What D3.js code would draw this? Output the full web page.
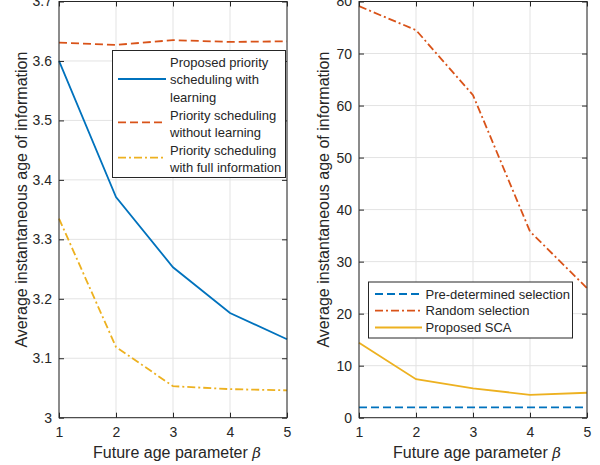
<!DOCTYPE html>
<html><head><meta charset="utf-8">
<script src="https://cdn.jsdelivr.net/npm/d3@7"></script>
<style>body{margin:0;background:#fff}svg{display:block}text{font-family:"Liberation Sans",Arial,sans-serif;fill:#262626}</style>
</head><body><svg id="c" width="600" height="465"></svg>
<script>
const betas = [1, 2, 3, 4, 5];
const leftLearning = [3.600, 3.371, 3.253, 3.176, 3.132];
const leftNoLearning = [3.631, 3.627, 3.635, 3.632, 3.633];
const leftFullInfo = [3.335, 3.119, 3.053, 3.048, 3.046];
const leftYTicks = [3, 3.1, 3.2, 3.3, 3.4, 3.5, 3.6, 3.7];
const rightPredetermined = [2, 2, 2, 2, 2];
const rightRandom = [79.1, 74.5, 62.0, 35.8, 24.9];
const rightSCA = [14.4, 7.4, 5.65, 4.4, 4.8];
const rightYTicks = [0, 10, 20, 30, 40, 50, 60, 70, 80];
const leftLegend = [["Proposed priority","scheduling with","learning"],["Priority scheduling","without learning"],["Priority scheduling","with full information"]];
const rightLegend = ["Pre-determined selection","Random selection","Proposed SCA"];

const C = {blue:"#0072BD", orange:"#D95319", yellow:"#EDB120"};
const LW = 1.8;
const svg = d3.select("#c");

function panel(x0, x1, y0, y1, ydom, yticks, series, yfmt, labelOff) {
  const x = d3.scaleLinear().domain([1,5]).range([x0,x1]);
  const y = d3.scaleLinear().domain(ydom).range([y1,y0]);
  const g = svg.append("g");
  g.selectAll(".gx").data(betas).join("line").attr("x1",d=>x(d)).attr("x2",d=>x(d)).attr("y1",y0).attr("y2",y1).attr("stroke","#e3e3e3").attr("stroke-width",1);
  g.selectAll(".gy").data(yticks).join("line").attr("y1",d=>y(d)).attr("y2",d=>y(d)).attr("x1",x0).attr("x2",x1).attr("stroke","#e3e3e3").attr("stroke-width",1);
  series.forEach(s => {
    g.append("path").datum(s.v).attr("fill","none").attr("stroke",s.c).attr("stroke-width",LW)
      .attr("stroke-dasharray",s.dash||null)
      .attr("d", d3.line().x((d,i)=>x(betas[i])).y(d=>y(d)));
  });
  const ax = d3.axisBottom(x).tickValues(betas).tickSize(-5).tickPadding(9).tickFormat(d3.format("d"));
  const ay = d3.axisLeft(y).tickValues(yticks).tickSize(-5).tickPadding(7).tickFormat(yfmt);
  const axT = d3.axisTop(x).tickValues(betas).tickSize(-5).tickFormat("");
  const ayR = d3.axisRight(y).tickValues(yticks).tickSize(-5).tickFormat("");
  const st = sel => { sel.select(".domain").remove(); sel.selectAll("line").attr("stroke","#262626"); sel.selectAll("text").attr("font-size",14).attr("fill","#262626").attr("font-family","Liberation Sans, Arial, sans-serif"); };
  g.append("g").attr("transform",`translate(0,${y1})`).call(ax).call(st);
  g.append("g").attr("transform",`translate(${x0},0)`).call(ay).call(st);
  g.append("g").attr("transform",`translate(0,${y0})`).call(axT).call(st);
  g.append("g").attr("transform",`translate(${x1},0)`).call(ayR).call(st);
  g.append("rect").attr("x",x0).attr("y",y0).attr("width",x1-x0).attr("height",y1-y0).attr("fill","none").attr("stroke","#262626").attr("stroke-width",1);
  const xl = g.append("text").attr("x",(x0+x1)/2+4).attr("y",458).attr("text-anchor","middle").attr("font-size",16);
  xl.append("tspan").text("Future age parameter  ");
  xl.append("tspan").attr("font-style","italic").attr("font-family","DejaVu Serif, serif").attr("font-size",15).text("β");
  g.append("text").attr("transform",`translate(${x0-labelOff},${(y0+y1)/2 - 10}) rotate(-90)`).attr("text-anchor","middle").attr("font-size",16).text("Average instantaneous age of information");
  return {x,y,g};
}

panel(59, 287, 1.5, 417.7, [3,3.7], leftYTicks, [
  {v:leftLearning, c:C.blue},
  {v:leftNoLearning, c:C.orange, dash:"8,4"},
  {v:leftFullInfo, c:C.yellow, dash:"8,3,2,3"}
], d3.format(".1~f"), 32);
panel(359, 587, 1.5, 417.7, [0,80], rightYTicks, [
  {v:rightPredetermined, c:C.blue, dash:"8,4"},
  {v:rightRandom, c:C.orange, dash:"8,3,2,3"},
  {v:rightSCA, c:C.yellow}
], d3.format("d"), 30);

{
  const g = svg.append("g");
  g.append("rect").attr("x",112.5).attr("y",50.5).attr("width",173).attr("height",127).attr("fill","#fff").attr("stroke","#262626").attr("stroke-width",1);
  const cols=[C.blue,C.orange,C.yellow], dashes=[null,"8,4","8,3,2,3"], lineY=[79,122.3,157.7];
  let ty = 62.3;
  leftLegend.forEach((lines,i)=>{
    g.append("line").attr("x1",118).attr("x2",166).attr("y1",lineY[i]).attr("y2",lineY[i]).attr("stroke",cols[i]).attr("stroke-width",LW).attr("stroke-dasharray",dashes[i]);
    lines.forEach(t=>{
      g.append("text").attr("x",170).attr("y",ty).attr("dy","0.35em").attr("font-size",13).text(t);
      ty += 17.6;
    });
  });
}
{
  const g = svg.append("g");
  g.append("rect").attr("x",368.5).attr("y",282).attr("width",204).attr("height",56).attr("fill","#fff").attr("stroke","#262626").attr("stroke-width",1);
  const cols=[C.blue,C.orange,C.yellow], dashes=["8,4","8,3,2,3",null], rowY=[294,310.7,327.5];
  rightLegend.forEach((t,i)=>{
    g.append("line").attr("x1",375).attr("x2",422).attr("y1",rowY[i]).attr("y2",rowY[i]).attr("stroke",cols[i]).attr("stroke-width",LW).attr("stroke-dasharray",dashes[i]);
    g.append("text").attr("x",425.5).attr("y",rowY[i]).attr("dy","0.35em").attr("font-size",13).text(t);
  });
}
</script></body></html>
